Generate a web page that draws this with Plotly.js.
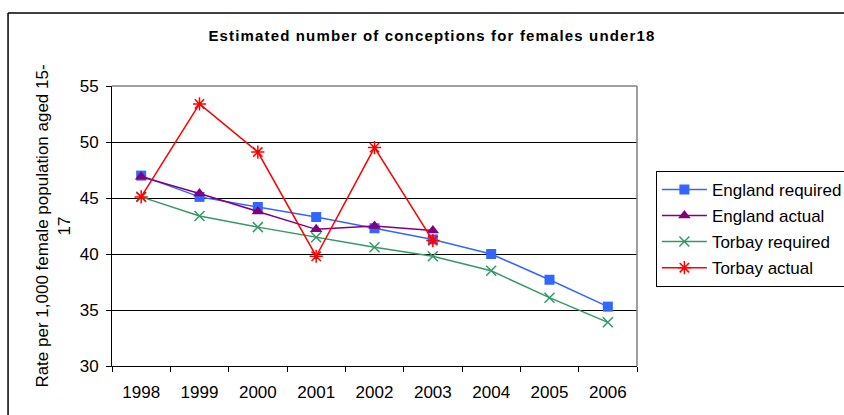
<!DOCTYPE html>
<html>
<head>
<meta charset="utf-8">
<script src="https://cdn.plot.ly/plotly-3.0.1.min.js"></script>
<style>
html,body{margin:0;padding:0;background:#fff;overflow:hidden;}
#chart{width:900px;height:415px;}
.gtitle{letter-spacing:1.15px;}
</style>
</head>
<body>
<div id="chart"></div>
<script>
const years = ["1998","1999","2000","2001","2002","2003","2004","2005","2006"];
const englandRequired = [47.0, 45.1, 44.2, 43.3, 42.3, 41.3, 40.0, 37.7, 35.3];
const englandActual = [46.9, 45.4, 43.8, 42.2, 42.5, 42.1];
const torbayRequired = [45.1, 43.4, 42.4, 41.5, 40.6, 39.8, 38.5, 36.1, 33.9];
const torbayActual = [45.1, 53.4, 49.1, 39.8, 49.5, 41.2];
const seriesNames = ["England required", "England actual", "Torbay required", "Torbay actual"];
const yTicks = [30, 35, 40, 45, 50, 55];

const font = "Liberation Sans, Arial, sans-serif";

const traces = [
  {x: years, y: englandRequired, name: seriesNames[0], legendgroup: "a",
   mode: "lines+markers", line: {color: "#3366FF", width: 1.5},
   marker: {symbol: "square", size: 10, color: "#3366FF"}},
  {x: years.slice(0, englandActual.length), y: englandActual, name: seriesNames[1], legendgroup: "b",
   mode: "lines+markers", line: {color: "#800080", width: 1.5},
   marker: {symbol: "triangle-up", size: 11, color: "#800080"}},
  {x: years, y: torbayRequired, name: seriesNames[2], legendgroup: "c",
   mode: "lines+markers", line: {color: "#339966", width: 1.5},
   marker: {symbol: "x-thin-open", size: 10, color: "#339966", line: {color: "#339966", width: 1.5}}},
  {x: years.slice(0, torbayActual.length), y: torbayActual, name: seriesNames[3], legendgroup: "d",
   mode: "lines+markers", line: {color: "#FF0000", width: 1.5},
   marker: {symbol: "asterisk-open", size: 11, color: "#FF0000", line: {color: "#FF0000", width: 1.5}}}
];

const layout = {
  width: 900, height: 415,
  margin: {l: 112, r: 263, t: 86, b: 49},
  paper_bgcolor: "#fff", plot_bgcolor: "#fff",
  font: {family: font, size: 17, color: "#000"},
  title: {text: "<b>Estimated number of conceptions for females under18</b>",
          font: {family: font, size: 15, color: "#000"},
          x: 432 / 900, xref: "container", xanchor: "center",
          y: 0.913, yref: "container", yanchor: "middle"},
  xaxis: {type: "category", categoryarray: years, range: [-0.5, 8.5],
          showline: true, linecolor: "#000", linewidth: 1,
          ticks: "outside", tickson: "boundaries", ticklen: 5, tickcolor: "#000",
          ticklabelstandoff: 11,
          showgrid: false, zeroline: false, tickfont: {size: 17, family: font}},
  yaxis: {range: [30, 55], tickvals: yTicks, ticktext: yTicks.map(String),
          showline: true, linecolor: "#000", linewidth: 1,
          ticks: "outside", ticklen: 5, tickcolor: "#000",
          ticklabelstandoff: 4,
          showgrid: true, gridcolor: "#000", gridwidth: 1, zeroline: false,
          tickfont: {size: 17, family: font},
          title: {text: "Rate per 1,000 female population aged 15-<br>17",
                  font: {size: 17, family: font}, standoff: 4}},
  legend: {x: 1.036, xanchor: "left", y: 0.697, yanchor: "top",
           bordercolor: "#000", borderwidth: 1, bgcolor: "#fff",
           font: {size: 17, family: font}, tracegroupgap: 1, itemwidth: 45},
  shapes: [
    {type: "line", xref: "paper", yref: "paper", x0: 0, x1: 1, y0: 1, y1: 1, line: {color: "#808080", width: 1.5}},
    {type: "line", xref: "paper", yref: "paper", x0: 1, x1: 1, y0: 0, y1: 1, line: {color: "#808080", width: 1.5}},
    {type: "line", xref: "paper", yref: "paper", x0: -0.198, x1: 1.6, y0: 1.2607, y1: 1.2607, line: {color: "#000", width: 1.5}},
    {type: "line", xref: "paper", yref: "paper", x0: -0.198, x1: -0.198, y0: -0.3, y1: 1.2607, line: {color: "#000", width: 1.5}}
  ],
  showlegend: true
};

Plotly.newPlot("chart", traces, layout, {displayModeBar: false, staticPlot: true});
</script>
</body>
</html>
